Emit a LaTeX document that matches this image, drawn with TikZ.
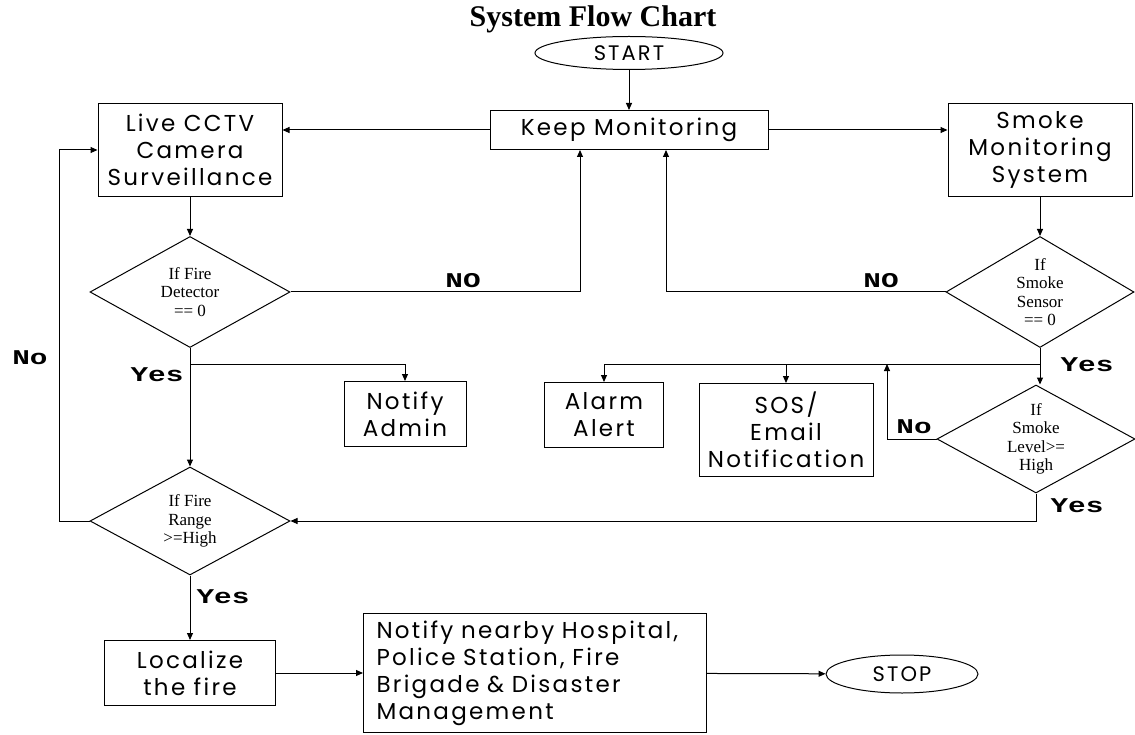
\documentclass[tikz,border=0pt]{standalone}
\usepackage{fontspec}
\usepackage{graphicx}
\setmainfont{Liberation Serif}
\newfontfamily\boxfont[LetterSpace=10]{Poppins}
\newfontfamily\lblfont{Liberation Mono}
\newcommand{\wide}[1]{\scalebox{1.4}[1]{#1}}
\usetikzlibrary{shapes.geometric,arrows.meta}

\tikzset{
  flowbox/.style={draw, line width=1pt, inner sep=0pt, align=center,
    font=\boxfont\fontsize{23}{27}\selectfont},
  term/.style={ellipse, draw, line width=1pt, inner sep=0pt,
    font=\boxfont\fontsize{21}{24}\selectfont},
  decide/.style={diamond, draw, line width=1pt, inner sep=0pt, aspect=1.8,
    align=center, font=\fontsize{17}{18.5}\selectfont},
  answer/.style={font=\lblfont\bfseries\fontsize{21}{21}\selectfont},
  arr/.style={line width=1pt, -{Triangle[length=7pt,width=6pt]}},
  wire/.style={line width=1pt}
}

\begin{document}
\begin{tikzpicture}[x=1pt,y=-1pt]
        \useasboundingbox (0,0) rectangle (1135,735);

        \node[font=\bfseries\fontsize{30}{30}\selectfont] (title) at (593,19) {System Flow Chart};

        % terminals and boxes
        \node[term, minimum width=188pt, minimum height=33pt] (start) at (629,53) {START};
        \node[flowbox, minimum width=278pt, minimum height=39pt] (keep) at (629,130) {Keep Monitoring};
        \node[flowbox, minimum width=184pt, minimum height=93pt] (cctv) at (190,150) {Live CCTV\\Camera\\Surveillance};
        \node[flowbox, minimum width=184pt, minimum height=93pt] (smokebox) at (1040,150) {Smoke\\Monitoring\\System};
        \node[flowbox, minimum width=122pt, minimum height=65pt] (admin) at (405,414) {Notify\\Admin};
        \node[flowbox, minimum width=119pt, minimum height=65pt] (alarm) at (604,415) {Alarm\\Alert};
        \node[flowbox, minimum width=174pt, minimum height=93pt] (sos) at (786,430) {SOS/\\Email\\Notification};
        \node[flowbox, minimum width=171pt, minimum height=65pt] (localize) at (190,673) {Localize\\the fire};
        \node[flowbox, minimum width=343pt, minimum height=119pt, align=left, text width=317pt] (notify) at (535,673)
          {Notify nearby Hospital,\\Police Station, Fire\\Brigade \& Disaster\\Management};
        \node[term, minimum width=152pt, minimum height=38pt] (stop) at (902,674) {STOP};

        % decisions
        \node[decide, minimum width=200pt, minimum height=111pt] (firedet) at (190,292) {If Fire\\Detector\\== 0};
        \node[decide, minimum width=188pt, minimum height=111pt] (smokesen) at (1040,292) {If\\Smoke\\Sensor\\== 0};
        \node[decide, minimum width=198pt, minimum height=108pt] (smokelev) at (1036,439) {If\\Smoke\\Level>=\\High};
        \node[decide, minimum width=200pt, minimum height=108pt] (firerange) at (190,521) {If Fire\\Range\\>=High};

        % joints
        \coordinate (fy) at (190,364);
        \coordinate (sy) at (1040,364);
        \coordinate (sn) at (887,364);

        % connectors
        \draw[arr] (start) -- (keep);
        \draw[arr] (keep.west) -- (keep.west -| cctv.east);
        \draw[arr] (keep.east) -- (keep.east -| smokebox.west);
        \draw[arr] (cctv) -- (firedet);
        \draw[arr] (smokebox) -- (smokesen.north);
        \draw[arr] (firedet.east) -| ([xshift=-49pt]keep.south);
        \draw[arr] (smokesen.west) -| ([xshift=37pt]keep.south);
        \draw[arr] (firedet.south) -- (firerange.north);
        \draw[arr] (fy) -| (admin.north);
        \draw[arr] (smokesen.south) -- (smokesen.south |- smokelev.north);
        \draw[arr] (sy) -| (alarm.north);
        \draw[arr] (sos.north |- sy) -- (sos.north);
        \draw[arr] (smokelev.west) -| (sn);
        \draw[arr] (smokelev.south) |- (firerange.east);
        \draw[arr] (firerange.west) -- ++(-30,0) |- (cctv.west);
        \draw[arr] (firerange) -- (localize);
        \draw[arr] (localize) -- (notify);
        \draw[arr] (notify) -- (stop);

        % answers
        \node[answer] (no1) at (463,281) {\wide{NO}};
        \node[answer] (no2) at (881,281) {\wide{NO}};
        \node[answer] (yes1) at (157,375) {\wide{Yes}};
        \node[answer] (yes2) at (1087,365) {\wide{Yes}};
        \node[answer] (no3) at (914,427) {\wide{No}};
        \node[answer] (yes3) at (1077,506) {\wide{Yes}};
        \node[answer] (no4) at (30,358) {\wide{No}};
        \node[answer] (yes4) at (223,597) {\wide{Yes}};
\end{tikzpicture}
\end{document}
